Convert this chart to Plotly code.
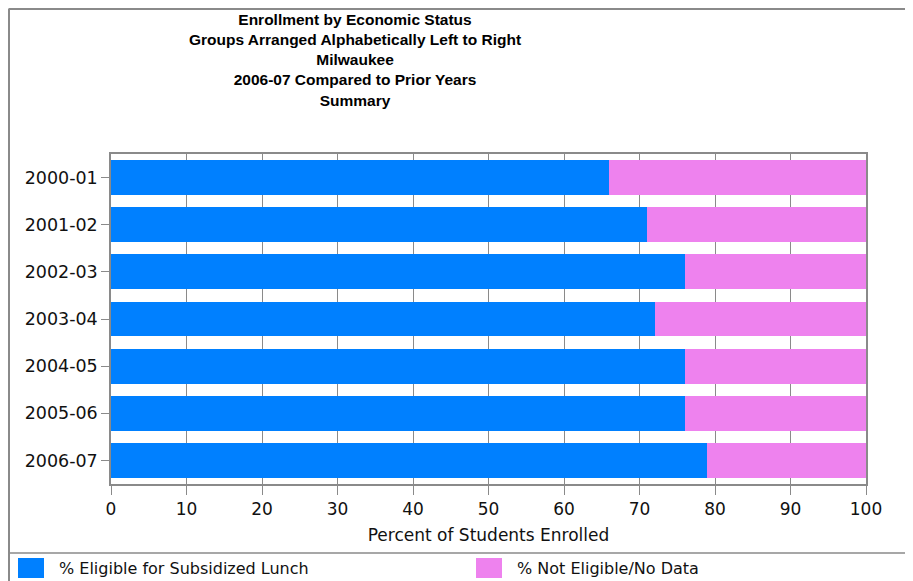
import plotly.graph_objects as go

years = ["2000-01", "2001-02", "2002-03", "2003-04", "2004-05", "2005-06", "2006-07"]
eligible = [66, 71, 76, 72, 76, 76, 79]
not_eligible = [34, 29, 24, 28, 24, 24, 21]
series_names = ["% Eligible for Subsidized Lunch", "% Not Eligible/No Data"]
series_colors = ["#0080ff", "#ee82ee"]
x_ticks = [0, 10, 20, 30, 40, 50, 60, 70, 80, 90, 100]
title_lines = ["Enrollment by Economic Status",
               "Groups Arranged Alphabetically Left to Right",
               "Milwaukee",
               "2006-07 Compared to Prior Years",
               "Summary"]
x_title = "Percent of Students Enrolled"

OFF = 8  # page offset of the plot inside the browser window
W, H = 913 - OFF, 581 - OFF
L, R, T, B = 111 - OFF, 866 - OFF, 154 - OFF, 484 - OFF  # plot area pixel box


def px(x):
    return (x - OFF - L) / (R - L)


def py(y):
    return (B - (y - OFF)) / (B - T)


fig = go.Figure()
for name, vals, col in zip(series_names, [eligible, not_eligible], series_colors):
    fig.add_trace(go.Bar(y=years, x=vals, name=name, orientation="h",
                         marker=dict(color=col, line=dict(width=0)),
                         width=0.74, showlegend=False))

gray = "#8a8a8a"
font_main = "DejaVu Sans, Verdana, sans-serif"

shapes = [
    dict(type="line", xref="paper", yref="paper", x0=px(8.5), x1=px(913), y0=py(9), y1=py(9),
         line=dict(color=gray, width=2)),
    dict(type="line", xref="paper", yref="paper", x0=px(9), x1=px(9), y0=py(9), y1=py(581),
         line=dict(color=gray, width=2)),
    dict(type="line", xref="paper", yref="paper", x0=px(9), x1=px(913), y0=py(553), y1=py(553),
         line=dict(color=gray, width=1.5)),
]
annotations = []
leg_x = [18, 476]
for i, (name, col) in enumerate(zip(series_names, series_colors)):
    shapes.append(dict(type="rect", xref="paper", yref="paper",
                       x0=px(leg_x[i]), x1=px(leg_x[i] + 26), y0=py(558), y1=py(578),
                       fillcolor=col, line=dict(width=0)))
    annotations.append(dict(xref="paper", yref="paper", x=px(leg_x[i] + 39), y=py(568),
                            text=name, showarrow=False, xanchor="left", yanchor="middle",
                            font=dict(family=font_main, size=16, color="#111111")))

fig.update_layout(
    width=W, height=H,
    margin=dict(l=L, r=W - R, t=T, b=H - B),
    paper_bgcolor="white", plot_bgcolor="white",
    barmode="stack",
    title=dict(text="<br>".join(title_lines), x=(355 - OFF) / W, xanchor="center",
               y=1 - 17 / H, yanchor="top", yref="container",
               font=dict(family="Liberation Sans, Arial", size=15.5, color="#000000",
                         weight="bold")),
    xaxis=dict(range=[0, 100], tickvals=x_ticks, ticks="outside", ticklen=9, tickcolor=gray,
               showgrid=True, gridcolor=gray, gridwidth=1, showline=True, linecolor=gray,
               linewidth=1.5, mirror=True, zeroline=False,
               tickfont=dict(family=font_main, size=17, color="#111111"),
               title=dict(text=x_title, standoff=11,
                          font=dict(family=font_main, size=17, color="#111111"))),
    yaxis=dict(type="category", categoryorder="array", categoryarray=years,
               autorange="reversed", ticks="outside", ticklen=8, tickcolor=gray,
               showgrid=False, showline=True, linecolor=gray, linewidth=1.5, mirror=True,
               tickfont=dict(family=font_main, size=17.5, color="#111111")),
    shapes=shapes, annotations=annotations,
)

fig.write_html("out.html")
